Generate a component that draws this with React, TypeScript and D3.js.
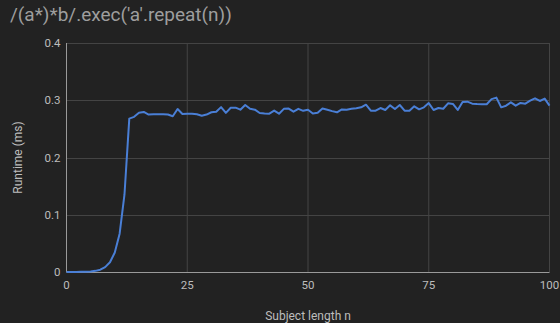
import * as d3 from 'd3';
import React from 'react';

const title = "/(a*)*b/.exec('a'.repeat(n))";
const xTicks = [0, 25, 50, 75, 100];
const yTicks = [0, 0.1, 0.2, 0.3, 0.4];

// runtime (ms) for n = 0..100
const runtime = [
  0.0, 0.0001, 0.0001, 0.0003, 0.0005, 0.001, 0.002, 0.004, 0.0085, 0.017,
  0.034, 0.067, 0.135, 0.268, 0.271, 0.278, 0.2795, 0.275, 0.2755, 0.2755,
  0.2755, 0.275, 0.272, 0.2847, 0.276, 0.2765, 0.2765, 0.2755, 0.273, 0.275,
  0.279, 0.28, 0.288, 0.278, 0.287, 0.287, 0.2835, 0.2917, 0.285, 0.2835,
  0.2777, 0.277, 0.2765, 0.282, 0.2765, 0.285, 0.2855, 0.28, 0.285, 0.2815,
  0.2835, 0.277, 0.278, 0.2857, 0.2835, 0.281, 0.279, 0.284, 0.2835, 0.285,
  0.286, 0.2876, 0.2923, 0.2818, 0.2818, 0.2864, 0.283, 0.2911, 0.2847, 0.2917,
  0.2818, 0.2818, 0.2894, 0.2841, 0.2876, 0.295, 0.283, 0.2864, 0.2852, 0.2946,
  0.2935, 0.283, 0.297, 0.2975, 0.294, 0.2935, 0.2932, 0.293, 0.302, 0.3046,
  0.2876, 0.2905, 0.2964, 0.2905, 0.2952, 0.294, 0.2993, 0.3034, 0.2987, 0.3028,
  0.2905,
];

const width = 560;
const height = 323;
const margin = { top: 43, right: 10.5, bottom: 51, left: 66.5 };

export default function App() {
  const innerW = width - margin.left - margin.right;
  const innerH = height - margin.top - margin.bottom;

  const x = d3.scaleLinear().domain([0, 100]).range([0, innerW]);
  const y = d3.scaleLinear().domain([0, 0.4]).range([innerH, 0]);

  const line = d3
    .line<number>()
    .x((_, i) => x(i))
    .y((d) => y(d));

  const font = 'Roboto, "Noto Sans", sans-serif';

  return (
    <svg
      width={width}
      height={height}
      style={{ position: 'absolute', left: 0, top: 0, background: '#222222' }}
    >
      <rect width={width} height={height} fill="#222222" />
      <text x={10} y={20.5} fontSize={19} fill="#9e9e9e" fontFamily={font}>
        {title}
      </text>
      <g transform={`translate(${margin.left},${margin.top})`}>
        {/* horizontal grid */}
        {yTicks.map((t) => (
          <line
            key={'gy' + t}
            x1={0}
            x2={innerW}
            y1={Math.round(y(t)) + 0.5}
            y2={Math.round(y(t)) + 0.5}
            stroke={t === 0 ? '#9a9a9a' : '#444444'}
          />
        ))}
        {/* vertical grid */}
        {xTicks.map((t) => (
          <line
            key={'gx' + t}
            x1={x(t)}
            x2={x(t)}
            y1={0}
            y2={innerH}
            stroke={t === 0 ? '#9a9a9a' : '#444444'}
          />
        ))}
        <path
          d={line(runtime) || ''}
          fill="none"
          stroke="#4a7fd6"
          strokeWidth={2}
          strokeLinejoin="round"
        />
        {yTicks.map((t) => (
          <text
            key={'ty' + t}
            x={-6}
            y={y(t)}
            dy="0.35em"
            textAnchor="end"
            fontSize={11.5}
            fill="#bdbdbd"
            fontFamily={font}
          >
            {t === 0 ? '0' : d3.format('.1f')(t)}
          </text>
        ))}
        {xTicks.map((t) => (
          <text
            key={'tx' + t}
            x={x(t)}
            y={innerH + 13}
            dy="0.35em"
            textAnchor="middle"
            fontSize={11.5}
            fill="#bdbdbd"
            fontFamily={font}
          >
            {t}
          </text>
        ))}
        <text
          x={innerW / 2}
          y={innerH + 44}
          dy="0.35em"
          textAnchor="middle"
          fontSize={12}
          fill="#bdbdbd"
          fontFamily={font}
        >
          Subject length n
        </text>
        <text
          transform={`translate(${-49},${innerH / 2}) rotate(-90)`}
          dy="0.35em"
          textAnchor="middle"
          fontSize={12}
          fill="#bdbdbd"
          fontFamily={font}
        >
          Runtime (ms)
        </text>
      </g>
    </svg>
  );
}
